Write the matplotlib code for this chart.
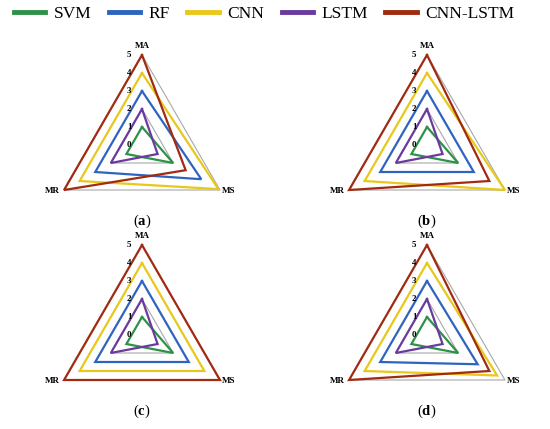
import numpy as np
import matplotlib.pyplot as plt
from matplotlib.lines import Line2D

plt.rcParams['font.family'] = ['Liberation Serif', 'DejaVu Serif']
plt.rcParams['mathtext.fontset'] = 'custom'
plt.rcParams['mathtext.rm'] = 'Liberation Serif'
plt.rcParams['mathtext.bf'] = 'Liberation Serif:bold'

# data: rank per axis (MA, MS, MR), rows follow model order
axis_names = ['MA', 'MS', 'MR']
models = ['SVM', 'RF', 'CNN', 'LSTM', 'CNN-LSTM']
colors = ['#2e9148', '#2e64c0', '#e8c81a', '#6a3a9e', '#a12b12']
panel_a = [[1, 2, 1], [3, 3.8, 3], [4, 4.9, 4], [2, 1, 2], [5, 2.8, 5]]
panel_b = [[1, 2, 1], [3, 3, 3], [4, 5, 4], [2, 1, 2], [5, 4, 5]]
panel_c = [[1, 2, 1], [3, 3, 3], [4, 4, 4], [2, 1, 2], [5, 5, 5]]
panel_d = [[1, 2, 1], [3, 3.25, 3], [4, 4.5, 4], [2, 1, 2], [5, 4, 5]]
panel_tags = ['a', 'b', 'c', 'd']
ticks = [0, 1, 2, 3, 4, 5]
grid_levels = [2, 5]

angles = np.deg2rad([90, -30, 210])

def to_xy(vals):
    r = np.append(vals, vals[0])
    th = np.append(angles, angles[0])
    return r * np.cos(th), r * np.sin(th)

fig = plt.figure(figsize=(5.5, 4.29), dpi=100)
px = 18.0  # pixels per unit
W, H = 270, 200
centers = [(142, 145), (427, 145), (142, 335), (427, 335)]

for (cx, cy), data, tag in zip(centers, [panel_a, panel_b, panel_c, panel_d], panel_tags):
    ax = fig.add_axes([(cx - W / 2) / 550, (429 - cy - H / 2) / 429, W / 550, H / 429])
    ax.set_xlim(-W / 2 / px, W / 2 / px)
    ax.set_ylim(-H / 2 / px, H / 2 / px)
    ax.axis('off')

    for lev in grid_levels:
        gx, gy = to_xy([lev] * 3)
        ax.plot(gx, gy, color='#a8a8a8', lw=0.8, zorder=1)

    for vals, c in zip(data, colors):
        x, y = to_xy(vals)
        ax.plot(x, y, color=c, lw=1.6, solid_joinstyle='miter', zorder=2)

    for t in ticks:
        ax.text(-0.72, t, str(t), ha='center', va='center', fontsize=6.5, fontweight='bold')

    ax.text(0, 5.5, axis_names[0], ha='center', va='center', fontsize=6.5, fontweight='bold')
    ax.text(4.45, -2.55, axis_names[1], ha='left', va='center', fontsize=6.5, fontweight='bold')
    ax.text(-4.55, -2.55, axis_names[2], ha='right', va='center', fontsize=6.5, fontweight='bold')
    ax.text(0, -4.25, r'(${\bf %s}$)' % tag, ha='center', va='center', fontsize=10.5)

handles = [Line2D([], [], color=c, lw=3.5) for c in colors]
fig.legend(handles, models, loc='center', bbox_to_anchor=(264 / 550, 1 - 14 / 429),
           ncol=5, frameon=False, fontsize=12.5, handlelength=1.8,
           handletextpad=0.5, columnspacing=1.0)

fig.savefig('out.png', dpi=100)
